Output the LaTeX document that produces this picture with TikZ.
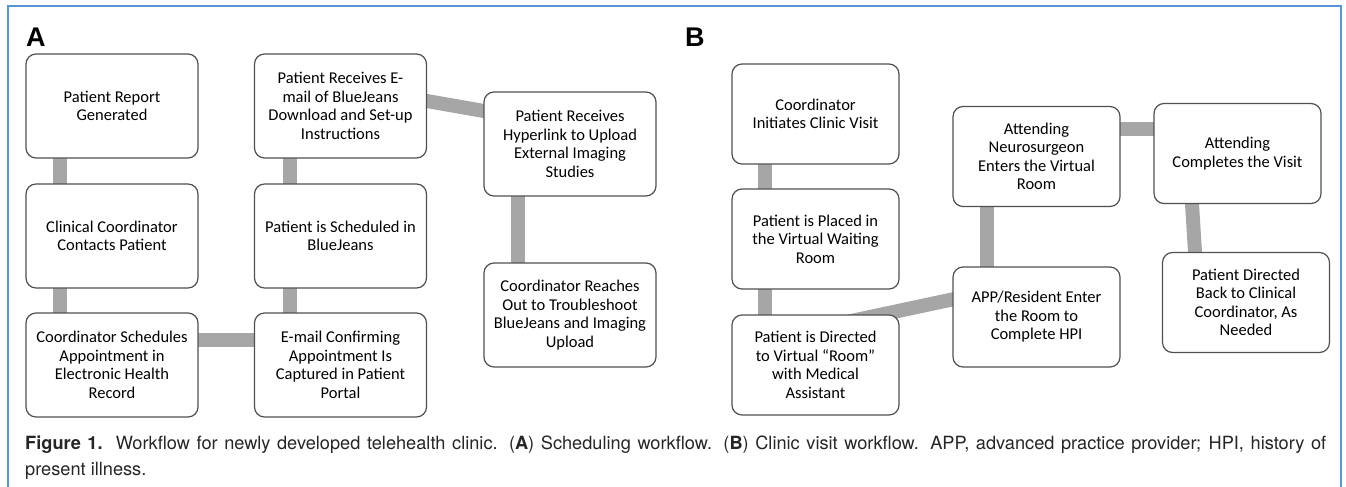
\documentclass[tikz,border=0pt]{standalone}
\usepackage{fontspec}
\newfontfamily\boxfont{Carlito}
\newfontfamily\capfont{TeX Gyre Heros}
\newfontfamily\panelfont{Liberation Sans}
\usetikzlibrary{backgrounds}
\definecolor{frameblue}{RGB}{86,148,214}
\definecolor{bargray}{RGB}{166,166,166}
\definecolor{boxline}{RGB}{80,80,80}
\tikzset{
  box/.style={draw=boxline, line width=1.2pt, fill=white, rounded corners=10pt,
    minimum width=172pt, minimum height=104pt, inner sep=0pt, align=center,
    font=\boxfont\fontsize{16.5}{18.5}\selectfont},
  boxb/.style={box, minimum width=167pt, minimum height=100pt},
  bar/.style={draw=bargray, line width=14pt, shorten <=-4pt, shorten >=-4pt},
  panel/.style={font=\panelfont\bfseries\fontsize{27}{30}\selectfont, anchor=base west, inner sep=0pt},
  caption/.style={font=\capfont\fontsize{18.2}{20}\selectfont, anchor=base west, inner sep=0pt, text=black!85}
}
\begin{document}
\begin{tikzpicture}[x=1pt, y=-1pt]
            \useasboundingbox (0,0) rectangle (1346,487);

            \node[panel] (A) at (26,47) {A};
            \node[panel] (B) at (685,47) {B};

            % scheduling workflow
            \begin{scope}[every node/.style={box}]

                \node (a1) at (112,106) {Patient Report\\Generated};
                \node (a2) at (112,236) {Clinical Coordinator\\Contacts Patient};
                \node (a3) at (112,365) {Coordinator Schedules\\Appointment in\\Electronic Health\\Record};
                \node (a4) at (340.5,106) {Patient Receives E-\\mail of BlueJeans\\Download and Set-up\\Instructions};
                \node (a5) at (340.5,236) {Patient is Scheduled in\\BlueJeans};
                \node (a6) at (340.5,365) {E-mail Confirming\\Appointment Is\\Captured in Patient\\Portal};
                \node (a7) at (570,144) {Patient Receives\\Hyperlink to Upload\\External Imaging\\Studies};
                \node (a8) at (570,315) {Coordinator Reaches\\Out to Troubleshoot\\BlueJeans and Imaging\\Upload};
            \end{scope}

            % clinic visit workflow
            \begin{scope}[every node/.style={boxb}]

                \node (b1) at (815.5,114) {Coordinator\\Initiates Clinic Visit};
                \node (b2) at (815.5,239) {Patient is Placed in\\the Virtual Waiting\\Room};
                \node (b3) at (815.5,365) {Patient is Directed\\to Virtual “Room”\\with Medical\\Assistant};
                \node (b4) at (1036.5,317) {APP/Resident Enter\\the Room to\\Complete HPI};
                \node (b5) at (1036.5,156.5) {Attending\\Neurosurgeon\\Enters the Virtual\\Room};
                \node (b6) at (1237.5,153.5) {Attending\\Completes the Visit};
                \node (b7) at (1246,302.5) {Patient Directed\\Back to Clinical\\Coordinator, As\\Needed};
            \end{scope}

            \begin{pgfonlayer}{background}
                \fill[white] (0,0) rectangle (1346,487);

                \path[bar] ([xshift=-52pt]a1.south) edge ([xshift=-52pt]a2.north);
                \path[bar] ([xshift=-52pt]a2.south) edge ([xshift=-52pt]a3.north);
                \path[bar] ([yshift=25pt]a3.east) edge ([yshift=25pt]a6.west);
                \path[bar] ([xshift=-50.5pt]a6.north) edge ([xshift=-50.5pt]a5.south);
                \path[bar] ([xshift=-50.5pt]a5.north) edge ([xshift=-50.5pt]a4.south);
                \path[bar] ([xshift=-27pt,yshift=9.7pt]a4.east) edge ([xshift=26pt,yshift=28.5pt]a7.west);
                \path[bar] ([xshift=-52pt]a7.south) edge ([xshift=-52pt]a8.north);

                \path[bar] ([xshift=-50.5pt]b1.south) edge ([xshift=-50.5pt]b2.north);
                \path[bar] ([xshift=-50.5pt]b2.south) edge ([xshift=-50.5pt]b3.north);
                \path[bar] ([xshift=24.5pt,yshift=-9pt]b3.north) edge ([xshift=15pt,yshift=20.8pt]b4.west);
                \path[bar] ([xshift=-49.5pt]b4.north) edge ([xshift=-49.5pt]b5.south);
                \path[bar] ([yshift=27.5pt]b5.east) edge ([yshift=24.5pt]b6.west);
                \path[bar] ([xshift=-45.5pt]b6.south) edge ([xshift=-51pt]b7.north);
            \end{pgfonlayer}

            \draw[frameblue, line width=2pt] (8,495) -- (8,6) -- (1341,6) -- (1341,495);

            \node[caption] (cap1) at (25,449) {\makebox[1301pt][s]{\textbf{Figure 1.}\ \ Workflow for newly developed telehealth clinic. (\textbf{A}) Scheduling workflow. (\textbf{B}) Clinic visit workflow. APP, advanced practice provider; HPI, history of}};
            \node[caption] (cap2) at (25,475) {present illness.};
        \end{tikzpicture}
\end{document}
